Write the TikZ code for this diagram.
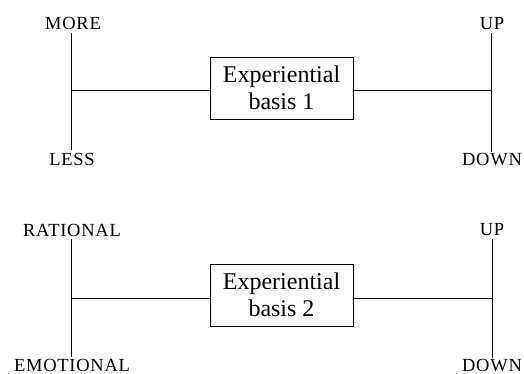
\documentclass[tikz,border=0pt]{standalone}
\usepackage{fontspec}
\setmainfont{Liberation Serif}
\newfontfamily\axisfont[LetterSpace=4]{Liberation Serif}

\begin{document}
\begin{tikzpicture}[x=1pt,y=-1pt]
      \useasboundingbox (0,0) rectangle (524,374);
      \begin{scope}[every node/.style={inner sep=0pt,font=\axisfont\fontsize{18.5}{20}\selectfont}]
        \node (more) at (73,23) {MORE};
        \node (less) at (72,159) {LESS};
        \node (up1) at (492,24) {UP};
        \node (down1) at (492,160) {DOWN};
        \node (rational) at (72,230) {RATIONAL};
        \node (emotional) at (72,365.5) {EMOTIONAL};
        \node (up2) at (492,230) {UP};
        \node (down2) at (492,365.5) {DOWN};
      \end{scope}
      \begin{scope}[every node/.style={draw,thick,align=center,minimum width=143pt,minimum height=62pt,inner sep=0pt,font=\fontsize{24}{27}\selectfont}]
        \node (basis1) at (281.5,88) {Experiential\\basis 1};
        \node (basis2) at (281.5,295) {Experiential\\basis 2};
      \end{scope}
      \coordinate (t1) at (71,33);
      \coordinate (b1) at (71,150);
      \coordinate (j1) at (71,90);
      \coordinate (t2) at (491,33);
      \coordinate (b2) at (491,152);
      \coordinate (k1) at (491,90);
      \coordinate (t3) at (71,239);
      \coordinate (b3) at (71,357);
      \coordinate (j2) at (71,298);
      \coordinate (t4) at (492,239);
      \coordinate (b4) at (492,358);
      \coordinate (k2) at (492,298);
      \begin{scope}[every edge/.style={draw,thick}]
        \path (t1) edge (b1);
        \path (t2) edge (b2);
        \path (j1) edge (j1 -| basis1.west);
        \path (k1 -| basis1.east) edge (k1);
        \path (t3) edge (b3);
        \path (t4) edge (b4);
        \path (j2) edge (j2 -| basis2.west);
        \path (k2 -| basis2.east) edge (k2);
      \end{scope}
    \end{tikzpicture}
\end{document}
